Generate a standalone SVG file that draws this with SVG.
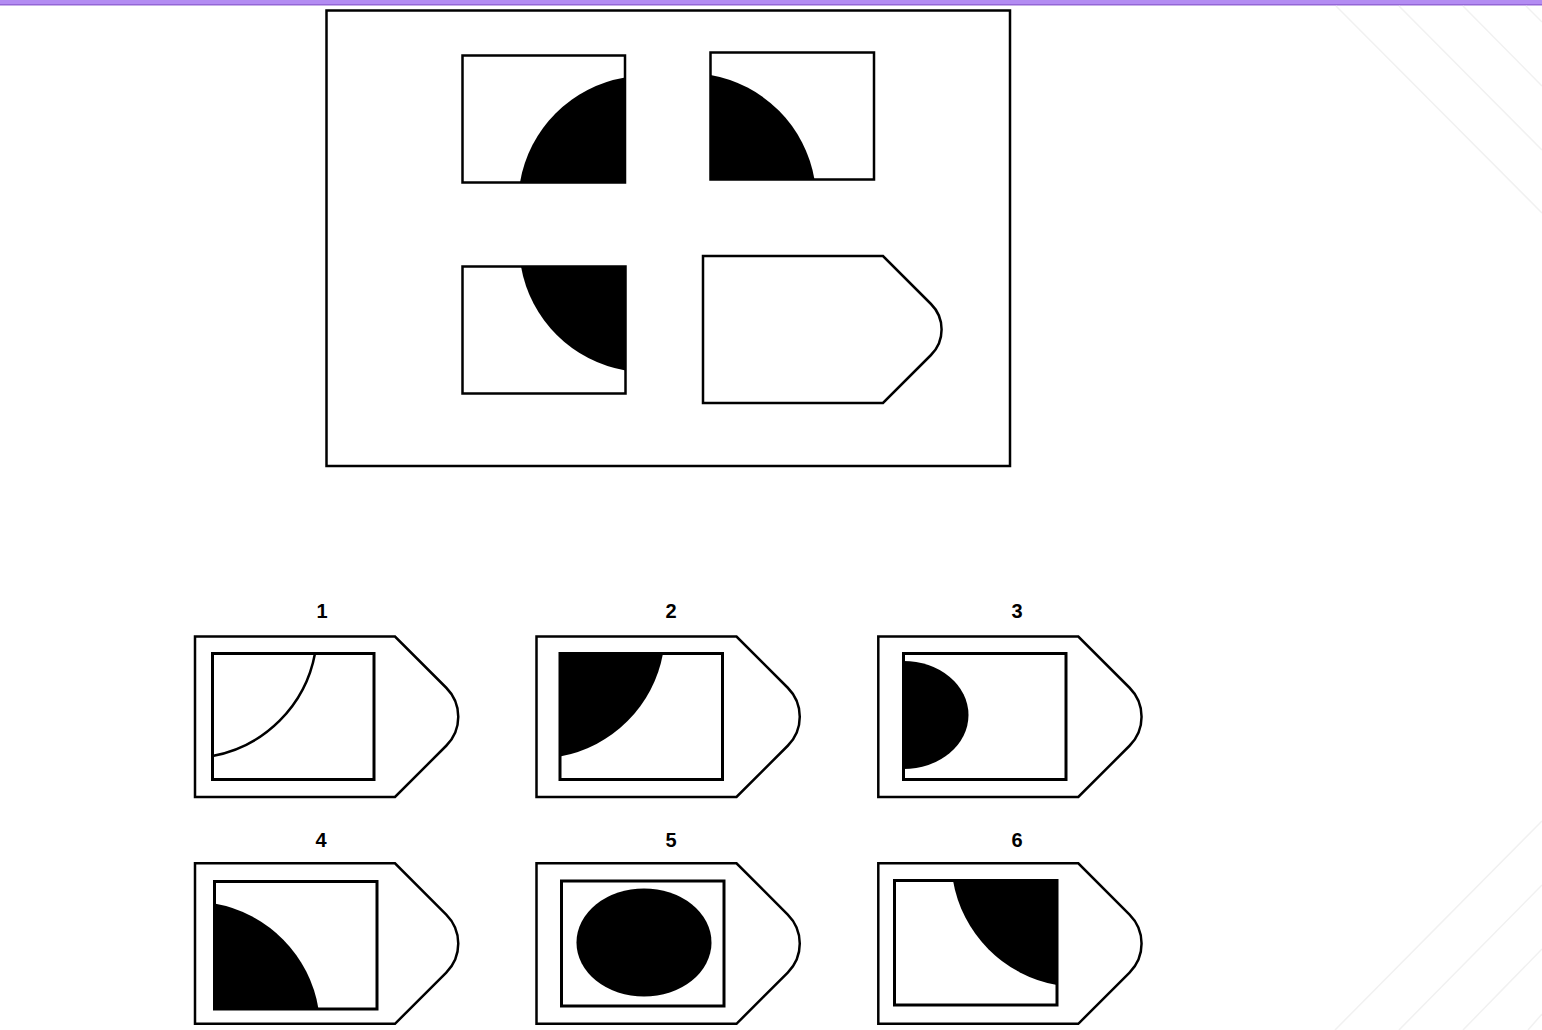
<svg xmlns="http://www.w3.org/2000/svg" width="1542" height="1030" viewBox="0 0 1542 1030">
<style>
.ln{fill:none;stroke:#000;stroke-width:2.5;stroke-linejoin:miter}
.tag{fill:#fff;stroke:#000;stroke-width:2.5;stroke-linejoin:miter}
.in{fill:none;stroke:#000;stroke-width:3}
.blk{fill:#000;stroke:none}
.deco{stroke:#f1f1f1;stroke-width:1.5;fill:none}
.lbl{font-family:"Liberation Sans",Arial,sans-serif;font-weight:bold;font-size:20px;fill:#000;text-anchor:middle}
</style>
<defs>
<path id="tagShape" d="M0,0 H200 L251.25,51.25 A41,41 0 0 1 251.25,109.25 L200,160.5 H0 Z"/>
</defs>
<rect width="1542" height="1030" fill="#fff"/>
<g id="decor">
<rect x="0" y="0" width="1542" height="4" fill="#b38cf2"/>
<rect x="0" y="4" width="1542" height="1.5" fill="#9466d6"/>
<line class="deco" x1="1336" y1="6" x2="1542" y2="213"/>
<line class="deco" x1="1399" y1="6" x2="1542" y2="150"/>
<line class="deco" x1="1463" y1="6" x2="1542" y2="86"/>
<line class="deco" x1="1526" y1="6" x2="1542" y2="22"/>
<line class="deco" x1="1335" y1="1030" x2="1542" y2="821"/>
<line class="deco" x1="1399" y1="1030" x2="1542" y2="885"/>
<line class="deco" x1="1463" y1="1030" x2="1542" y2="949"/>
<line class="deco" x1="1528" y1="1030" x2="1542" y2="1014"/>
</g>
<g id="question">
<rect class="ln" x="326.5" y="10.5" width="683.5" height="455.5"/>
<g id="cell-tl">
<path class="blk" d="M520,182.5 A128,128 0 0 1 625,77.5 V182.5 Z"/>
<rect class="ln" x="462.5" y="55.5" width="162.5" height="127"/>
</g>
<g id="cell-tr">
<path class="blk" d="M710.5,75 A128,128 0 0 1 814.5,179.5 H710.5 Z"/>
<rect class="ln" x="710.5" y="52.5" width="163.5" height="127"/>
</g>
<g id="cell-bl">
<path class="blk" d="M521,266.5 A128,128 0 0 0 625.5,370.5 V266.5 Z"/>
<rect class="ln" x="462.5" y="266.5" width="163" height="127"/>
</g>
<g id="cell-br">
<path class="ln" d="M703,256 H883 L931,304 A36,36 0 0 1 931,355 L883,403 H703 Z"/>
</g>
</g>
<g id="options">
<g id="opt1">
<text class="lbl" x="322" y="618">1</text>
<use href="#tagShape" class="tag" x="195" y="636.5"/>
<path d="M315,653.5 A128,128 0 0 1 212.5,756" fill="none" stroke="#000" stroke-width="2.5"/>
<rect class="in" x="212.5" y="653.5" width="161.5" height="126"/>
</g>
<g id="opt2">
<text class="lbl" x="671" y="618">2</text>
<use href="#tagShape" class="tag" x="536.5" y="636.5"/>
<path class="blk" d="M560,653.5 H663 A128,128 0 0 1 560,756.5 Z"/>
<rect class="in" x="560" y="653.5" width="162.5" height="126"/>
</g>
<g id="opt3">
<text class="lbl" x="1017" y="618">3</text>
<use href="#tagShape" class="tag" x="878.3" y="636.5"/>
<path class="blk" d="M903.5,661 A65,54 0 0 1 903.5,769 Z"/>
<rect class="in" x="903.5" y="653.5" width="162.5" height="126"/>
</g>
<g id="opt4">
<text class="lbl" x="321" y="847">4</text>
<use href="#tagShape" class="tag" x="195" y="863.3"/>
<path class="blk" d="M214.5,903.5 A128,128 0 0 1 318.5,1009 H214.5 Z"/>
<rect class="in" x="214.5" y="881.5" width="162.5" height="127.5"/>
</g>
<g id="opt5">
<text class="lbl" x="671" y="847">5</text>
<use href="#tagShape" class="tag" x="536.5" y="863.3"/>
<ellipse class="blk" cx="644" cy="942.5" rx="67.5" ry="54"/>
<rect class="in" x="561.5" y="881" width="162.5" height="125"/>
</g>
<g id="opt6">
<text class="lbl" x="1017" y="847">6</text>
<use href="#tagShape" class="tag" x="878.3" y="863.3"/>
<path class="blk" d="M953,880.5 A128,128 0 0 0 1057,985 V880.5 Z"/>
<rect class="in" x="894.5" y="880.5" width="162.5" height="124.5"/>
</g>
</g>
</svg>
